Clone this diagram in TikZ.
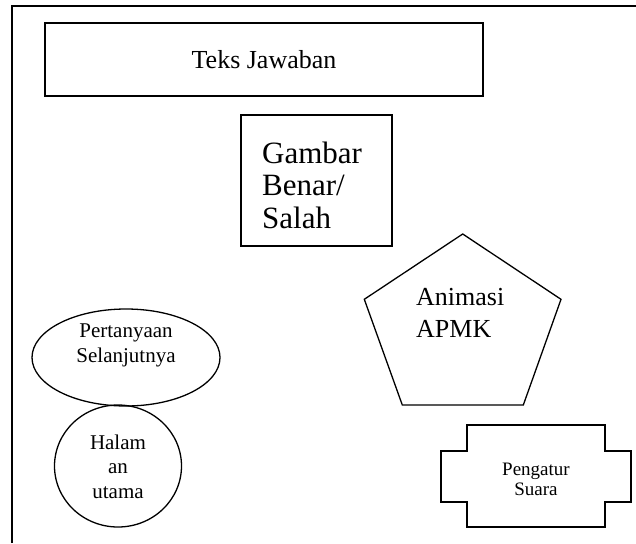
\documentclass[tikz,border=0pt]{standalone}
\usepackage{fontspec}
\setmainfont{Liberation Serif}
\usetikzlibrary{shapes.geometric}
\newcommand{\lines}[2]{\begin{tabular}[t]{@{}#1@{}}#2\end{tabular}}
\begin{document}
\begin{tikzpicture}[x=1pt,y=-1pt,
  outline/.style={draw=black,line width=1.3pt},
  txt/.style={inner sep=0pt,anchor=base},
  txtleft/.style={inner sep=0pt,anchor=base west},
]
\useasboundingbox (0,0) rectangle (636,543);

% page frame
\draw[line width=1.6pt] (12,543) -- (12,6) -- (636,6);

% answer text box
\node[outline, minimum width=438pt, minimum height=73pt, inner sep=0pt,
      font=\fontsize{26}{30}\selectfont] (jawab) at (264,59.5) {Teks Jawaban};

% true/false picture box
\node[outline, minimum width=151pt, minimum height=131pt, inner sep=0pt] (gbox) at (316.5,180.5) {};
\node[txtleft, font=\fontsize{31}{32.5}\selectfont] (gtext) at (262,163)
  {\lines{l}{Gambar\\Benar/\\Salah}};

% animation pentagon
\draw[outline, line join=miter] (462.7,234) -- (561,299.3) -- (523.3,405)
  -- (402.3,405) -- (364.3,299.3) -- cycle;
\node[txtleft, font=\fontsize{26}{32}\selectfont] (anim) at (416,305)
  {\lines{l}{Animasi\\APMK}};

% next question button
\node[outline, ellipse, minimum width=188pt, minimum height=97pt, inner sep=0pt] (next) at (126,357.5) {};
\node[txt, font=\fontsize{21}{25.5}\selectfont] (nexttext) at (126,337)
  {\lines{c}{Pertanyaan\\Selanjutnya}};

% home button
\node[outline, ellipse, minimum width=127pt, minimum height=122pt, inner sep=0pt] (home) at (118,466) {};
\node[txt, font=\fontsize{21}{24.5}\selectfont] (hometext) at (118,449)
  {\lines{c}{Halam\\an\\utama}};

% sound control
\draw[outline, line join=miter] (467,425) -- (605,425) -- (605,451) -- (631,451)
  -- (631,502) -- (605,502) -- (605,527) -- (467,527) -- (467,502)
  -- (441,502) -- (441,451) -- (467,451) -- cycle;
\node[txt, font=\fontsize{19}{20}\selectfont] (sound) at (536,475)
  {\lines{c}{Pengatur\\Suara}};
\end{tikzpicture}
\end{document}
